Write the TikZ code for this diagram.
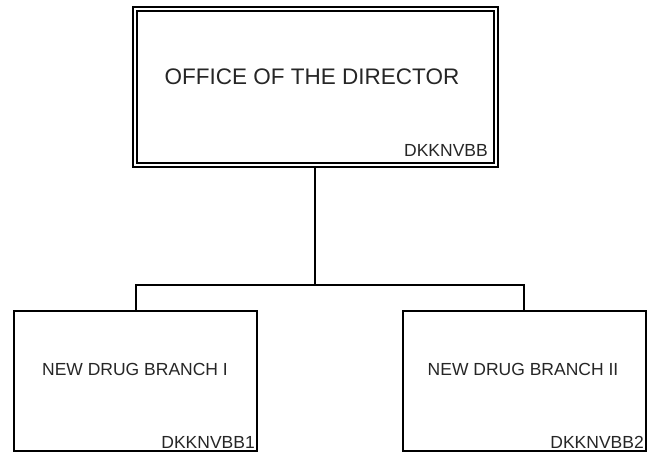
\documentclass[tikz,border=0pt]{standalone}
\usepackage{fontspec}
\setmainfont{Liberation Sans}
\begin{document}
\begin{tikzpicture}[x=1pt,y=-1pt,
  box/.style={draw=black,line width=1.2pt,fill=white},
  link/.style={draw=black,line width=1.2pt},
  title/.style={text=black!85,font=\fontsize{22.5}{26}\selectfont,inner sep=0pt},
  sub/.style={text=black!85,font=\fontsize{17.5}{20}\selectfont,inner sep=0pt},
  code/.style={text=black!85,font=\fontsize{17.5}{20}\selectfont,inner sep=0pt,anchor=east}]
\useasboundingbox (0,0) rectangle (648,454);
% top box (double border)
\draw[box] (133,7) rectangle (498,167);
\draw[link] (137,11) rectangle (494,163);
\coordinate (topb) at (315,167);
\node[title] (t) at (312,77) {OFFICE OF THE DIRECTOR};
\node[code] (tc) at (488,150) {DKKNVBB};
% branch boxes
\draw[box] (14,311) rectangle (257,451);
\draw[box] (403,311) rectangle (646,451);
\coordinate (l) at (136,311);
\coordinate (r) at (524,311);
\node[sub] (b1) at (135,369) {NEW DRUG BRANCH I};
\node[sub] (b2) at (523,369) {NEW DRUG BRANCH II};
\node[code] (c1) at (255,442) {DKKNVBB1};
\node[code] (c2) at (644,442) {DKKNVBB2};
% connectors
\draw[link] (topb) -- (315,285) -| (l);
\draw[link] (315,285) -| (r);
\end{tikzpicture}
\end{document}
